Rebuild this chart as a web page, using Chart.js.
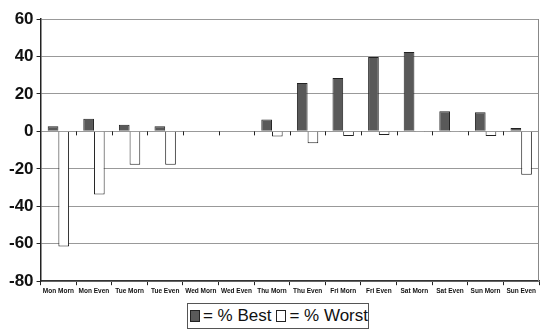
<!DOCTYPE html>
<html lang="en">
<head>
  <meta charset="UTF-8" />
  <title>Best vs Worst</title>
  <script src="https://cdn.jsdelivr.net/npm/chart.js"></script>
  <style>
    body { margin: 0; background: #fff; font-family: "Liberation Sans", Arial, sans-serif; }
    #wrap { position: relative; width: 542px; height: 336px; }
    #legend {
      position: absolute; left: 187px; top: 303px; width: 180px; height: 24px;
      border: 1px solid #555; display: flex; align-items: center; justify-content: center;
      font-size: 17px; color: #111; white-space: nowrap;
    }
    .sw { display: inline-block; width: 10px; height: 10px; border: 1px solid #222; margin: 0 3px 0 2px; }
  </style>
</head>
<body>
  <div id="wrap">
    <canvas id="chart" width="542" height="300"></canvas>
    <div id="legend">
      <span class="sw" style="background:#595959"></span>= % Best
      <span class="sw" style="background:#fff;margin-left:5px"></span>= % Worst
    </div>
  </div>
  <script>
    const categories = ['Mon Morn', 'Mon Even', 'Tue Morn', 'Tue Even', 'Wed Morn', 'Wed Even', 'Thu Morn',
                        'Thu Even', 'Fri Morn', 'Fri Even', 'Sat Morn', 'Sat Even', 'Sun Morn', 'Sun Even'];
    const bestValues = [2.7, 6.8, 3.5, 2.7, 0, 0, 6.4, 25.8, 28.5, 39.7, 42.4, 10.7, 10.2, 1.8];
    const worstValues = [-61.5, -33.7, -17.8, -17.8, 0, 0, -2.7, -6.3, -2.5, -2, -0.3, -0.3, -2.5, -23.2];
    const yTicks = [60, 40, 20, 0, -20, -40, -60, -80];

    // right border of the plot area + category ticks on the zero line
    const frame = {
      id: 'frame',
      afterDraw(chart) {
        const { ctx, chartArea: a, scales } = chart;
        ctx.save();
        ctx.strokeStyle = '#888';
        ctx.lineWidth = 1;
        ctx.beginPath();
        ctx.moveTo(a.right - 0.5, a.top);
        ctx.lineTo(a.right - 0.5, a.bottom);
        ctx.stroke();
        const y0 = scales.y.getPixelForValue(0);
        ctx.strokeStyle = '#222';
        ctx.beginPath();
        for (let i = 1; i < categories.length; i++) {
          const x = Math.round((scales.x.getPixelForValue(i - 1) + scales.x.getPixelForValue(i)) / 2) + 0.5;
          ctx.moveTo(x, y0);
          ctx.lineTo(x, y0 + 4);
        }
        ctx.stroke();
        ctx.restore();
      }
    };

    new Chart(document.getElementById('chart'), {
      type: 'bar',
      data: {
        labels: categories,
        datasets: [
          { label: '% Best', data: bestValues, backgroundColor: '#595959', borderColor: '#222', borderWidth: 1 },
          { label: '% Worst', data: worstValues, backgroundColor: '#fff', borderColor: '#222', borderWidth: 1 }
        ]
      },
      options: {
        responsive: false,
        animation: false,
        events: [],
        layout: { padding: { left: 6, right: 3, top: 19, bottom: 3 } },
        datasets: { bar: { categoryPercentage: 0.6, barPercentage: 1 } },
        plugins: { legend: { display: false }, tooltip: { enabled: false } },
        scales: {
          x: {
            grid: { offset: true, drawOnChartArea: false, color: '#222', tickLength: 4 },
            border: { color: '#333', width: 1.5 },
            ticks: { color: '#111', font: { family: 'Liberation Sans', size: 6.5, weight: 'bold' },
                     maxRotation: 0, autoSkip: false, padding: 2 }
          },
          y: {
            min: -80, max: 60,
            afterBuildTicks(scale) { scale.ticks = yTicks.map(v => ({ value: v })); },
            grid: { color: '#999', tickLength: 4, tickColor: '#222' },
            border: { color: '#222', width: 1.5 },
            ticks: { color: '#111', padding: 3, font: { family: 'Liberation Sans', size: 17, weight: 'bold' } }
          }
        }
      },
      plugins: [frame]
    });
  </script>
</body>
</html>
